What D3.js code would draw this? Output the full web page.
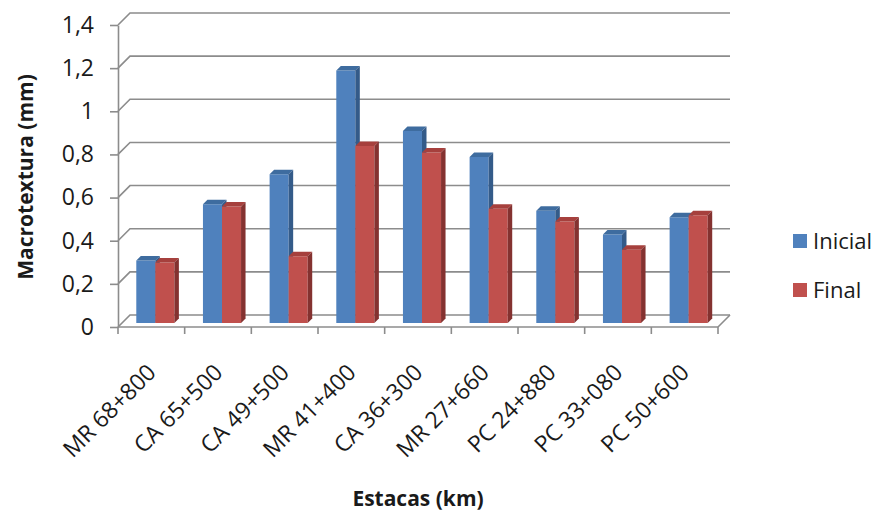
<!DOCTYPE html>
<html>
<head>
<meta charset="utf-8">
<script src="https://cdn.jsdelivr.net/npm/d3@7/dist/d3.min.js"></script>
<style>
  html, body { margin: 0; padding: 0; background: #fff; }
  svg { display: block; }
  text { font-family: "Open Sans", "DejaVu Sans", sans-serif; fill: #1a1a1a; }
</style>
</head>
<body>
<svg id="chart" width="878" height="513"></svg>
<script>
// Macrotextura inicial e final por estaca
const categories = ["MR 68+800", "CA 65+500", "CA 49+500", "MR 41+400", "CA 36+300",
                    "MR 27+660", "PC 24+880", "PC 33+080", "PC 50+600"];
const seriesNames = ["Inicial", "Final"];
const inicial = [0.29, 0.55, 0.69, 1.17, 0.89, 0.77, 0.52, 0.41, 0.49];
const final   = [0.28, 0.54, 0.31, 0.82, 0.79, 0.53, 0.47, 0.34, 0.50];
const yTicks = [0, 0.2, 0.4, 0.6, 0.8, 1, 1.2, 1.4];

const seriesValues = [inicial, final];
const colors = [
  { front: "#4F81BD", top: "#3E6C9F", side: "#345B89" },
  { front: "#C0504D", top: "#A6403D", side: "#843230" }
];

const svg = d3.select("#chart");

// plot box on the front plane, plus an oblique depth for the 3D look
const plot = { left: 118, right: 718, top: 25, bottom: 327 };
const depth = 12;                 // full floor depth (px, drawn up-right)
const barZ0 = 4, barZ1 = 8.5;     // depth slice occupied by the columns

const x = d3.scaleBand().domain(categories).range([plot.left, plot.right]);
const xs = d3.scaleBand().domain(seriesNames).range([0, x.bandwidth()])
  .paddingInner(0).paddingOuter(0.75);
const y = d3.scaleLinear().domain([0, 1.4]).range([plot.bottom, plot.top]);

// oblique projection: front-plane point moved back by z
const P = (px, py, z) => [px + z, py - z];
const pts = arr => arr.map(p => p.join(",")).join(" ");

const locale = d3.formatLocale({ decimal: ",", thousands: ".", grouping: [3], currency: ["R$", ""] });
const fmt = locale.format("~g");

// gridlines: left-wall diagonal then across the back wall
const grid = svg.append("g").attr("fill", "none").attr("stroke", "#8C8C8C").attr("stroke-width", 1.6);
yTicks.forEach(t => {
  const a = P(plot.left, y(t), 0), b = P(plot.left, y(t), depth), c = P(plot.right, y(t), depth);
  grid.append("polyline").attr("points", pts([a, b, c]));
});
// floor right edge
grid.append("line")
  .attr("x1", plot.right).attr("y1", plot.bottom)
  .attr("x2", plot.right + depth).attr("y2", plot.bottom - depth);

// y axis
const yAxis = d3.axisLeft(y).tickValues(yTicks).tickFormat(fmt).tickSizeInner(8).tickSizeOuter(0).tickPadding(16);
const gy = svg.append("g").attr("transform", `translate(${plot.left},0)`).call(yAxis);
gy.select(".domain").attr("stroke", "#8C8C8C").attr("stroke-width", 1.6);
gy.selectAll(".tick line").attr("stroke", "#8C8C8C").attr("stroke-width", 1.6);
gy.selectAll(".tick text").attr("font-size", 23).attr("fill", "#1a1a1a")
  .style("font-family", "'Open Sans', sans-serif");

// x axis line with tick marks at category boundaries
const gx = svg.append("g").attr("stroke", "#8C8C8C").attr("stroke-width", 1.6);
gx.append("line").attr("x1", plot.left).attr("x2", plot.right).attr("y1", plot.bottom).attr("y2", plot.bottom);
categories.concat([null]).forEach((c, i) => {
  const bx = c === null ? plot.right : x(c);
  gx.append("line").attr("x1", bx).attr("x2", bx).attr("y1", plot.bottom).attr("y2", plot.bottom + 7);
});

// 3D columns
const bars = svg.append("g");
categories.forEach((cat, i) => {
  seriesNames.forEach((s, k) => {
    const v = seriesValues[k][i];
    const xl = x(cat) + xs(s), xr = xl + xs.bandwidth();
    const y0 = y(0), yt = y(v);
    const col = colors[k];
    const g = bars.append("g");
    g.append("polygon").attr("fill", col.front)
      .attr("points", pts([P(xl, y0, barZ0), P(xr, y0, barZ0), P(xr, yt, barZ0), P(xl, yt, barZ0)]));
    g.append("polygon").attr("fill", col.top)
      .attr("points", pts([P(xl, yt, barZ0), P(xr, yt, barZ0), P(xr, yt, barZ1), P(xl, yt, barZ1)]));
    g.append("polygon").attr("fill", col.side)
      .attr("points", pts([P(xr, y0, barZ0), P(xr, yt, barZ0), P(xr, yt, barZ1), P(xr, y0, barZ1)]));
  });
});

// category labels, rotated
svg.append("g").selectAll("text").data(categories).join("text")
  .attr("text-anchor", "end")
  .attr("font-size", 23)
  .attr("transform", d => `translate(${x(d) + x.bandwidth() / 2 + 6},374) rotate(-45)`)
  .text(d => d);

// axis titles
svg.append("text").attr("text-anchor", "middle").attr("font-size", 21).attr("font-weight", "bold")
  .attr("x", 418).attr("y", 506).text("Estacas (km)");
svg.append("text").attr("text-anchor", "middle").attr("font-size", 21).attr("font-weight", "bold")
  .attr("transform", "translate(33,177) rotate(-90)").text("Macrotextura (mm)");

// legend
const legend = svg.append("g").attr("transform", "translate(793,234)");
seriesNames.forEach((s, k) => {
  const g = legend.append("g").attr("transform", `translate(0,${k * 49})`);
  g.append("rect").attr("width", 14).attr("height", 14).attr("fill", colors[k].front);
  g.append("text").attr("x", 20).attr("y", 15).attr("font-size", 22).text(s);
});
</script>
</body>
</html>
